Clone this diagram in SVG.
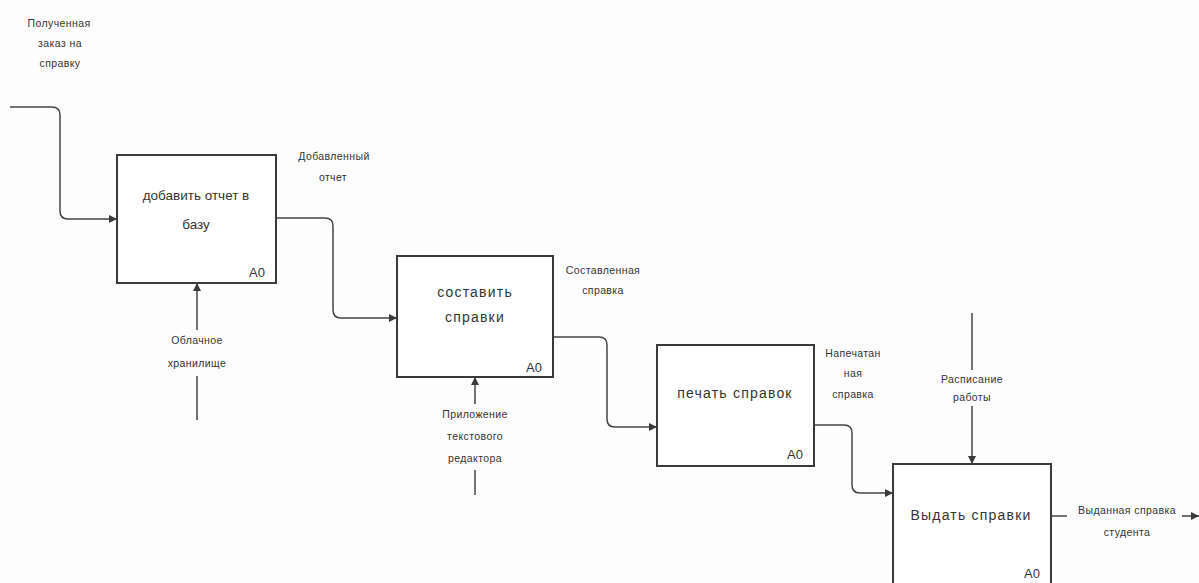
<svg xmlns="http://www.w3.org/2000/svg" width="1199" height="583" viewBox="0 0 1199 583">
<defs>
<marker id="arr" viewBox="0 0 10 10" refX="10" refY="5" markerWidth="8" markerHeight="8" markerUnits="userSpaceOnUse" orient="auto">
<path d="M0,0 L10,5 L0,10 z" fill="#3a3a3a"/>
</marker>
<style>
.box{fill:#ffffff;stroke:#3a3a3a;stroke-width:2}
.con{fill:none;stroke:#444;stroke-width:1.5}
.t{font-family:"Liberation Sans",Arial,sans-serif;font-size:14px;fill:#333;text-anchor:middle;letter-spacing:1.2px}
.t1{font-family:"Liberation Sans",Arial,sans-serif;font-size:13.5px;fill:#333;text-anchor:middle}
.id{font-family:"Liberation Sans",Arial,sans-serif;font-size:13px;fill:#333;text-anchor:end}
.l{font-family:"Liberation Sans",Arial,sans-serif;font-size:10.5px;fill:#333;text-anchor:middle;letter-spacing:0.4px}
</style>
</defs>
<rect width="1199" height="583" fill="#fdfdfd"/>
<g id="connectors">
<path class="con" d="M10,107 H52 Q60,107 60,115 V211 Q60,219 68,219 H117" marker-end="url(#arr)"/>
<path class="con" d="M276,218 H325 Q333,218 333,226 V310 Q333,318 341,318 H397" marker-end="url(#arr)"/>
<path class="con" d="M553,337 H599 Q607,337 607,345 V419 Q607,427 615,427 H657" marker-end="url(#arr)"/>
<path class="con" d="M814,425 H844 Q852,425 852,433 V485 Q852,493 860,493 H893" marker-end="url(#arr)"/>
<path class="con" d="M197,420 V376 M197,330 V283" marker-end="url(#arr)"/>
<path class="con" d="M475,495 V470 M475,404 V377" marker-end="url(#arr)"/>
<path class="con" d="M972,313 V370 M972,406 V464" marker-end="url(#arr)"/>
<path class="con" d="M1051,516 H1067"/>
<path class="con" d="M1182,516 H1199" marker-end="url(#arr)"/>
</g>
<g id="labels">
<text class="l" x="59" y="27">Полученная</text>
<text class="l" x="60" y="47">заказ на</text>
<text class="l" x="60" y="67">справку</text>
<text class="l" x="334" y="160">Добавленный</text>
<text class="l" x="333" y="181">отчет</text>
<text class="l" x="603" y="274">Составленная</text>
<text class="l" x="603" y="294">справка</text>
<text class="l" x="853" y="357">Напечатан</text>
<text class="l" x="853" y="377">ная</text>
<text class="l" x="853" y="398">справка</text>
<text class="l" x="197" y="344">Облачное</text>
<text class="l" x="197" y="367">хранилище</text>
<text class="l" x="475" y="418">Приложение</text>
<text class="l" x="475" y="440">текстового</text>
<text class="l" x="475" y="462">редактора</text>
<text class="l" x="972" y="383">Расписание</text>
<text class="l" x="972" y="401">работы</text>
<text class="l" x="1127" y="514">Выданная справка</text>
<text class="l" x="1127" y="536">студента</text>
</g>
<g id="A0-add">
<rect class="box" x="117" y="155" width="159" height="128"/>
<text class="t1" x="196" y="200">добавить отчет в</text>
<text class="t1" x="196" y="229">базу</text>
<text class="id" x="265" y="277">A0</text>
</g>
<g id="A0-compose">
<rect class="box" x="397" y="256" width="156" height="121"/>
<text class="t" x="475" y="297">составить</text>
<text class="t" x="475" y="322">справки</text>
<text class="id" x="542" y="372">A0</text>
</g>
<g id="A0-print">
<rect class="box" x="657" y="345" width="157" height="121"/>
<text class="t" x="735" y="398">печать справок</text>
<text class="id" x="803" y="459">A0</text>
</g>
<g id="A0-issue">
<rect class="box" x="893" y="464" width="158" height="130"/>
<text class="t" x="971" y="520">Выдать справки</text>
<text class="id" x="1040" y="578">A0</text>
</g>
</svg>
